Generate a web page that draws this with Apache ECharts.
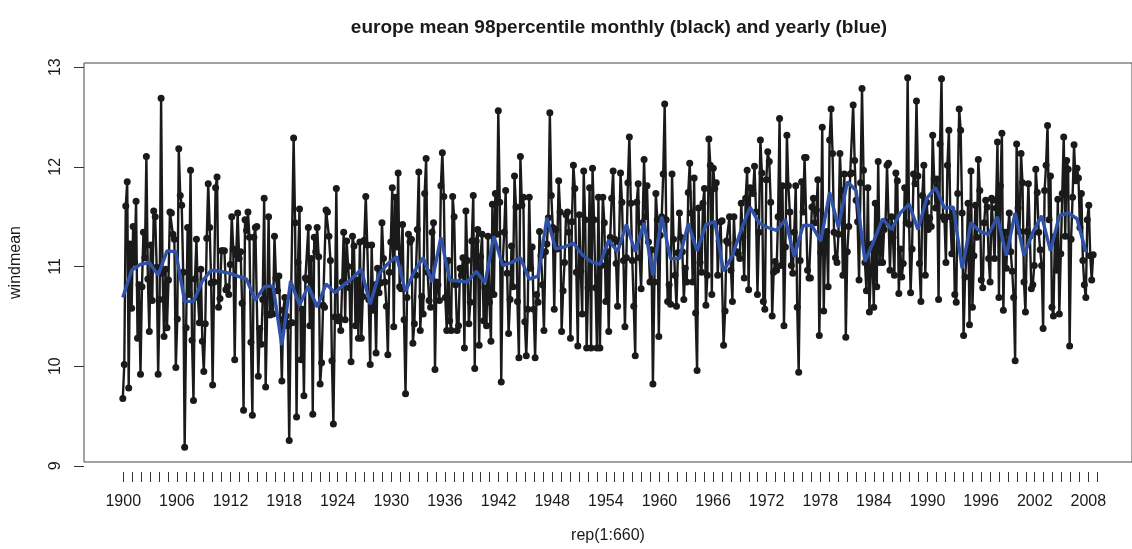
<!DOCTYPE html>
<html>
<head>
<meta charset="utf-8">
<script src="https://cdn.jsdelivr.net/npm/echarts@6/dist/echarts.min.js"></script>
<style>
  html, body { margin: 0; padding: 0; background: #ffffff; }
  #chart { width: 1132px; height: 549px; }
</style>
</head>
<body>
<div id="chart"></div>
<script>
// Monthly 98th-percentile wind means, six values per year, 1900-2009
const monthly = [
  9.59, 9.94, 11.57, 11.82, 9.70, 11.18,   10.52, 11.36, 10.99, 11.62, 10.21, 10.76,
  9.84, 10.74, 11.30, 11.04, 12.08, 10.82,  10.28, 11.17, 10.60, 11.52, 11.46, 10.94,
  9.84, 10.61, 12.68, 10.88, 10.23, 10.92,  10.32, 10.81, 11.51, 11.50, 11.28, 11.23,
  9.91, 10.41, 12.16, 11.68, 11.58, 10.89,  9.09, 10.32, 11.35, 10.66, 11.94, 10.19,
  9.57, 10.82, 11.23, 10.63, 10.37, 10.92,  10.18, 9.87, 10.36, 11.24, 11.80, 11.35,
  10.78, 9.73, 10.79, 11.76, 11.87, 10.53,  10.62, 11.11, 11.11, 11.11, 10.71, 10.74,
  10.66, 10.97, 11.46, 11.13, 9.99, 11.07,  11.50, 11.03, 11.10, 10.57, 9.47, 11.43,
  11.32, 11.51, 11.25, 10.17, 9.42, 11.25,  11.35, 11.36, 9.82, 10.31, 10.15, 10.61,
  11.65, 9.71, 10.46, 11.46, 10.45, 10.71,  10.46, 11.26, 10.83, 10.70, 10.85, 10.40,
  9.77, 10.50, 10.63, 10.44, 10.34, 9.16,   10.37, 10.37, 12.27, 11.40, 9.40, 10.99,
  11.54, 9.99, 10.51, 9.62, 10.83, 10.81,   11.35, 10.34, 11.03, 9.43, 11.25, 11.10,
  11.35, 11.05, 9.74, 9.96, 10.55, 10.53,   11.53, 11.51, 11.26, 11.01, 9.98, 9.33,
  10.43, 11.75, 10.39, 10.43, 10.29, 10.79, 11.30, 10.40, 11.21, 10.95, 10.73, 9.97,
  11.26, 11.16, 10.34, 10.81, 10.21, 11.20, 10.21, 10.64, 11.22, 11.67, 11.17, 10.61,
  9.94, 11.17, 10.50, 10.76, 10.06, 10.93,  10.68, 10.78, 11.40, 11.03, 10.79, 10.54,
  10.04, 10.89, 11.20, 11.76, 10.33, 11.66, 11.15, 11.91, 10.74, 10.72, 11.38, 10.40,
  9.64, 10.63, 11.28, 11.20, 11.23, 10.16,  10.36, 10.86, 11.33, 11.92, 10.29, 10.64,
  10.46, 11.70, 12.06, 10.89, 10.60, 10.53, 11.30, 11.40, 9.89, 10.79, 10.76, 10.60,
  11.78, 12.12, 11.67, 10.63, 10.29, 11.01, 10.39, 10.29, 11.67, 11.46, 10.76, 10.29,
  10.34, 10.93, 10.86, 11.04, 10.11, 11.52, 11.01, 10.36, 10.58, 11.21, 11.68, 9.90,
  11.21, 11.33, 10.14, 11.05, 11.28, 10.39, 10.73, 10.34, 11.26, 10.58, 10.18, 11.59,
  10.66, 11.70, 11.28, 12.55, 11.61, 9.76,  10.98, 11.30, 11.73, 10.88, 10.26, 10.61,
  11.16, 10.74, 11.88, 11.56, 10.59, 10.01, 12.08, 11.58, 11.66, 10.38, 10.03, 10.51,
  11.66, 10.93, 11.15, 10.51, 10.01, 10.66, 10.58, 11.31, 11.06, 10.76, 10.29, 11.10,
  11.18, 11.45, 12.53, 11.68, 11.35, 10.51, 11.33, 11.13, 11.83, 11.51, 10.28, 10.70,
  10.99, 11.48, 11.51, 11.30, 10.21, 11.41, 11.99, 11.75, 10.89, 10.13, 11.48, 10.90,
  10.46, 11.93, 11.43, 10.11, 10.73, 11.76, 10.11, 11.96, 11.43, 10.73, 10.11, 11.66,
  10.11, 10.96, 11.66, 11.40, 10.59, 11.10, 10.28, 11.25, 11.65, 11.93, 11.23, 10.98,
  10.54, 11.20, 11.91, 11.61, 11.01, 10.33, 11.04, 11.81, 12.28, 11.60, 11.01, 10.54,
  10.03, 11.61, 11.80, 11.04, 10.72, 11.40, 12.05, 11.46, 11.78, 11.20, 10.79, 11.12,
  9.74, 10.79, 11.70, 11.43, 10.23, 11.27,  11.46, 11.90, 12.62, 11.43, 10.59, 10.76,
  10.56, 11.90, 11.23, 10.86, 10.54, 11.09, 11.50, 11.25, 11.10, 10.61, 10.93, 10.79,
  11.71, 12.01, 11.50, 10.79, 11.86, 10.47, 9.88, 11.55, 10.99, 10.89, 11.60, 11.75,
  10.55, 10.86, 12.26, 11.99, 10.66, 11.96, 11.75, 11.81, 10.86, 11.21, 11.41, 11.42,
  10.14, 10.49, 11.21, 11.19, 11.46, 10.91, 10.59, 11.46, 11.10, 11.10, 11.08, 11.03,
  11.60, 11.25, 10.83, 11.65, 11.94, 10.71, 11.76, 11.75, 11.70, 11.98, 11.51, 10.66,
  11.30, 12.25, 11.91, 10.59, 10.51, 11.84, 12.13, 12.03, 11.61, 10.44, 10.89, 11.00,
  10.91, 11.46, 12.47, 10.96, 11.78, 10.34, 11.15, 12.30, 11.78, 11.51, 10.96, 10.88,
  11.30, 11.78, 10.53, 9.86, 11.01, 11.82,  11.51, 12.07, 12.07, 10.91, 10.83, 10.83,
  11.56, 11.65, 11.40, 11.53, 11.84, 10.24, 11.09, 12.38, 10.49, 11.25, 11.31, 10.74,
  12.25, 12.57, 12.11, 11.30, 11.04, 10.99, 11.28, 12.11, 11.73, 10.86, 11.90, 10.22,
  11.10, 11.36, 11.90, 11.91, 12.61, 12.04, 11.63, 11.41, 10.81, 11.81, 12.78, 11.94,
  10.99, 10.70, 11.76, 10.48, 10.89, 11.18, 10.53, 11.60, 10.74, 12.03, 10.99, 11.37,
  10.99, 11.33, 11.41, 11.99, 12.01, 10.91, 11.46, 11.25, 10.86, 11.91, 11.83, 10.67,
  11.13, 10.84, 10.98, 11.76, 11.40, 12.89, 11.38, 10.68, 11.13, 11.90, 11.80, 12.65,
  11.88, 10.98, 10.59, 11.68, 11.99, 10.86, 11.61, 11.33, 11.45, 11.36, 12.30, 11.85,
  11.55, 11.85, 10.61, 12.21, 12.88, 11.46, 11.43, 10.99, 11.99, 12.35, 11.46, 11.08,
  11.50, 10.66, 10.58, 11.70, 12.57, 12.35, 11.50, 10.24, 10.84, 11.05, 11.60, 10.35,
  11.93, 10.53, 11.06, 11.58, 11.25, 12.05, 11.73, 10.81, 10.73, 11.40, 11.63, 11.56,
  11.03, 10.79, 11.65, 11.63, 11.03, 11.55, 12.23, 10.63, 11.78, 12.32, 10.50, 11.30,
  10.93, 11.30, 11.50, 11.10, 10.90, 10.63, 9.98, 12.21, 11.55, 11.31, 12.11, 11.81,
  10.79, 10.48, 11.31, 11.80, 11.26, 10.72, 10.76, 10.96, 11.95, 11.71, 11.30, 11.12,
  10.96, 10.31, 11.73, 11.99, 12.40, 11.43, 11.88, 10.53, 10.44, 11.26, 10.91, 11.64,
  10.46, 11.08, 11.70, 12.28, 11.26, 12.04, 11.95, 10.13, 11.23, 11.66, 12.20, 11.83,
  11.96, 11.86, 11.35, 11.70, 11.01, 10.76, 10.63, 11.43, 11.58, 11.06, 10.81, 11.07
];

// Yearly means, one per year, 1900-2009
const yearly = [
  10.63, 10.91, 10.97, 10.99, 10.86, 11.11, 11.10, 10.59, 10.59, 10.80,
  10.91, 10.90, 10.88, 10.85, 10.82, 10.60, 10.74, 10.75, 10.14, 10.80,
  10.55, 10.75, 10.53, 10.77, 10.68, 10.76, 10.83, 10.92, 10.56, 10.87,
  10.98, 11.05, 10.69, 10.90, 11.04, 10.79, 11.25, 10.81, 10.80, 10.79,
  10.90, 10.78, 11.26, 10.96, 10.99, 11.04, 10.82, 10.85, 11.45, 11.13,
  11.15, 11.19, 11.07, 11.00, 10.97, 11.22, 11.10, 11.38, 11.10, 11.40,
  10.86, 11.46, 11.03, 11.03, 11.39, 11.11, 11.38, 11.41, 10.90, 11.06,
  11.33, 11.56, 11.40, 11.35, 11.32, 11.43, 11.05, 11.37, 11.37, 11.21,
  11.71, 11.35, 11.82, 11.73, 11.00, 11.21, 11.44, 11.33, 11.50, 11.59,
  11.33, 11.65, 11.76, 11.55, 11.56, 10.93, 11.40, 11.31, 11.28, 11.46,
  11.06, 11.50, 11.06, 11.30, 11.47, 11.11, 11.47, 11.50, 11.44, 11.10
];

// One tick per year; every sixth year is labelled
const years = [];
for (let y = 1900; y <= 2009; y++) years.push(String(y));
const yTicks = [9, 10, 11, 12, 13];

const titleText = 'europe mean 98percentile monthly (black) and yearly (blue)';
const xName = 'rep(1:660)';
const yName = 'windmean';

// Plot frame (R-style 4% padding around the data range)
const frame = { left: 84, top: 63, width: 1060, height: 409 };
const perYear = 6;
const n = monthly.length;
const xPad = (n - 1) * 0.04;
const xMin = -xPad, xMax = (n - 1) + xPad;
const dMin = Math.min(...monthly), dMax = Math.max(...monthly);
const yPad = (dMax - dMin) * 0.04;
const yMin = dMin - yPad, yMax = dMax + yPad;
const pxX = frame.width / (xMax - xMin);
const pxY = frame.height / (yMax - yMin);

// Tick frames aligned with the data coordinates
const xTickFrame = {
  left: frame.left + xPad * pxX,
  width: (years.length - 1) * perYear * pxX,
  top: frame.top, height: frame.height
};
const yTickFrame = {
  left: frame.left, width: frame.width,
  top: frame.top + (yMax - yTicks[yTicks.length - 1]) * pxY,
  height: (yTicks[yTicks.length - 1] - yTicks[0]) * pxY
};

const font = 'Liberation Sans, Arial, Helvetica, sans-serif';
const ink = '#1a1a1a';

const monthlyData = monthly.map((v, k) => [k, v]);
const yearlyData = yearly.map((v, j) => [j * perYear, v]);

const chart = echarts.init(document.getElementById('chart'), null, { renderer: 'canvas' });
chart.setOption({
  backgroundColor: '#ffffff',
  animation: false,
  title: {
    text: titleText,
    left: frame.left + frame.width / 2,
    top: 13,
    textAlign: 'center',
    textStyle: { fontFamily: font, fontSize: 19, fontWeight: 'bold', color: ink }
  },
  grid: [
    { left: frame.left, top: frame.top, width: frame.width, height: frame.height,
      show: true, borderColor: '#444', borderWidth: 1, backgroundColor: 'transparent' },
    { left: xTickFrame.left, top: xTickFrame.top, width: xTickFrame.width, height: xTickFrame.height },
    { left: yTickFrame.left, top: yTickFrame.top, width: yTickFrame.width, height: yTickFrame.height }
  ],
  xAxis: [
    { gridIndex: 0, type: 'value', min: xMin, max: xMax,
      axisLine: { show: false }, axisTick: { show: false }, axisLabel: { show: false },
      splitLine: { show: false },
      name: xName, nameLocation: 'middle', nameGap: 66,
      nameTextStyle: { fontFamily: font, fontSize: 16, color: ink } },
    { gridIndex: 1, type: 'category', data: years, boundaryGap: false,
      axisLine: { show: false },
      axisTick: { show: true, inside: false, length: 10, interval: 0,
                  lineStyle: { color: '#333', width: 1 } },
      axisLabel: { interval: perYear - 1, margin: 22, fontFamily: font, fontSize: 16, color: ink },
      splitLine: { show: false } },
    { gridIndex: 2, type: 'value', min: 0, max: 1, show: false }
  ],
  yAxis: [
    { gridIndex: 0, type: 'value', min: yMin, max: yMax,
      axisLine: { show: false }, axisTick: { show: false }, axisLabel: { show: false },
      splitLine: { show: false },
      name: yName, nameLocation: 'middle', nameGap: 60, nameRotate: 90,
      nameTextStyle: { fontFamily: font, fontSize: 16, color: ink } },
    { gridIndex: 1, type: 'value', min: 0, max: 1, show: false },
    { gridIndex: 2, type: 'value', min: yTicks[0], max: yTicks[yTicks.length - 1], interval: 1,
      axisLine: { show: false },
      axisTick: { show: true, inside: false, length: 10, lineStyle: { color: '#333', width: 1 } },
      axisLabel: { rotate: 90, margin: 20, fontFamily: font, fontSize: 16, color: ink },
      splitLine: { show: false } }
  ],
  series: [
    { name: 'monthly', type: 'line', xAxisIndex: 0, yAxisIndex: 0, data: monthlyData,
      symbol: 'circle', symbolSize: 7, showAllSymbol: true,
      lineStyle: { color: ink, width: 2.4 }, itemStyle: { color: ink },
      emphasis: { disabled: true }, z: 2 },
    { name: 'yearly', type: 'line', xAxisIndex: 0, yAxisIndex: 0, data: yearlyData,
      symbol: 'none', lineStyle: { color: '#2f52a8', width: 3.4 },
      emphasis: { disabled: true }, z: 3 }
  ]
});
</script>
</body>
</html>
